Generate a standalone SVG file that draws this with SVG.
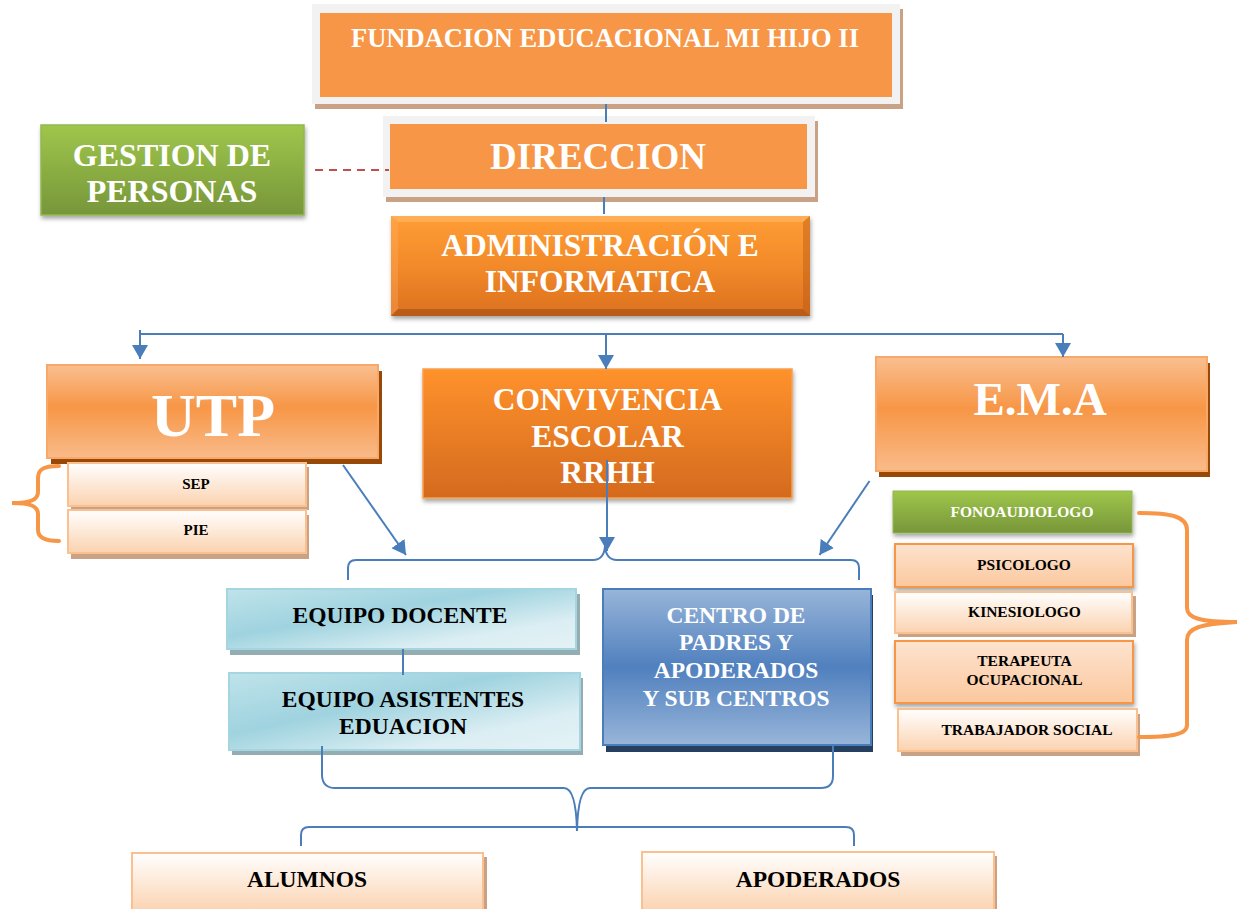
<svg xmlns="http://www.w3.org/2000/svg" width="1237" height="909" viewBox="0 0 1237 909">
<style>
text{font-family:"Liberation Serif","Times New Roman",serif;font-weight:bold;text-anchor:middle}
.w{fill:#ffffff}
.k{fill:#000000}
.line{stroke:#4a7ebb;stroke-width:2;fill:none}
.brace{stroke:#f79646;stroke-width:4;fill:none;stroke-linecap:round}
.tan{fill:#c9a184}
.peach{fill:url(#gPeach);stroke:#fac090;stroke-width:2}
.peach2{fill:url(#gPeach2);stroke:#f79646;stroke-width:2}
.blue{fill:url(#gBlue);stroke:#a5d5e0;stroke-width:2}
</style>
<defs>
<linearGradient id="gGreen" x1="0" y1="0" x2="0" y2="1"><stop offset="0" stop-color="#9fc64b"/><stop offset="1" stop-color="#77963a"/></linearGradient>
<linearGradient id="gAdmin" x1="0" y1="0" x2="0" y2="1"><stop offset="0" stop-color="#ff9d33"/><stop offset="0.5" stop-color="#f28a2a"/><stop offset="1" stop-color="#dc701f"/></linearGradient>
<linearGradient id="gConv" x1="0" y1="0" x2="0" y2="1"><stop offset="0" stop-color="#ff922c"/><stop offset="1" stop-color="#d46a1e"/></linearGradient>
<linearGradient id="gUtp" x1="0" y1="0" x2="0" y2="1"><stop offset="0" stop-color="#f9bf90"/><stop offset="0.45" stop-color="#f79646"/><stop offset="1" stop-color="#f9bb8a"/></linearGradient>
<linearGradient id="gPeach" x1="0" y1="0" x2="0" y2="1"><stop offset="0" stop-color="#ffffff"/><stop offset="1" stop-color="#fbd2af"/></linearGradient>
<linearGradient id="gPeach2" x1="0" y1="0" x2="0" y2="1"><stop offset="0" stop-color="#fde3cf"/><stop offset="1" stop-color="#fbc89e"/></linearGradient>
<linearGradient id="gBlue" x1="0" y1="0" x2="1" y2="1"><stop offset="0" stop-color="#bfe3ea"/><stop offset="0.4" stop-color="#9fd3df"/><stop offset="0.75" stop-color="#dbeef3"/><stop offset="1" stop-color="#e4f2f5"/></linearGradient>
<linearGradient id="gCentro" x1="0" y1="0" x2="0" y2="1"><stop offset="0" stop-color="#98b5d9"/><stop offset="0.5" stop-color="#5080be"/><stop offset="1" stop-color="#98b5d9"/></linearGradient>
<filter id="soft" x="-10%" y="-10%" width="120%" height="130%"><feDropShadow dx="1" dy="3" stdDeviation="2" flood-color="#000" flood-opacity="0.35"/></filter>
<marker id="arr" viewBox="0 0 14 16" refX="14" refY="8" markerWidth="14" markerHeight="16" markerUnits="userSpaceOnUse" orient="auto"><path d="M0,0 L14,8 L0,16 z" fill="#4a7ebb"/></marker>
</defs>

<g id="fundacion">
<rect x="315" y="9" width="588" height="100" class="tan"/>
<rect x="312" y="4" width="588" height="100" fill="#f2f2f2"/>
<rect x="320" y="13" width="572" height="84" fill="#f79646"/>
<text x="605" y="47" font-size="26.5" class="w">FUNDACION EDUCACIONAL MI HIJO II</text>
</g>

<g id="direccion">
<rect x="386" y="121" width="432" height="81" class="tan"/>
<rect x="383" y="116" width="432" height="81" fill="#f2f2f2"/>
<rect x="390" y="124" width="417" height="65" fill="#f79646"/>
<text x="598" y="169" font-size="37" class="w">DIRECCION</text>
</g>

<g id="gestion">
<rect x="41" y="125" width="263" height="90" fill="url(#gGreen)" stroke="#93b752" stroke-width="1.5" filter="url(#soft)"/>
<text x="172" y="166" font-size="32" class="w">GESTION DE</text>
<text x="172" y="202" font-size="32" class="w">PERSONAS</text>
</g>

<g id="administracion">
<rect x="391" y="216" width="419" height="100" fill="url(#gAdmin)" filter="url(#soft)"/>
<polygon points="391,216 810,216 803,222 398,222" fill="#ffc078" opacity="0.5"/>
<polygon points="391,216 398,222 398,309 391,316" fill="#ffb060" opacity="0.35"/>
<polygon points="810,216 810,316 803,309 803,222" fill="#b85a16" opacity="0.45"/>
<polygon points="391,316 810,316 803,309 398,309" fill="#9c4a12" opacity="0.55"/>
<text x="600" y="256" font-size="31.5" class="w">ADMINISTRACIÓN E</text>
<text x="600" y="292" font-size="31.5" class="w">INFORMATICA</text>
</g>

<g id="utp">
<rect x="51" y="371" width="331" height="93" fill="#984807"/>
<rect x="47" y="365" width="331" height="93" fill="url(#gUtp)" stroke="#f8a868" stroke-width="2"/>
<text x="213" y="436" font-size="62" class="w">UTP</text>
</g>

<g id="sep">
<rect x="71" y="467" width="238" height="43" class="tan"/>
<rect x="68" y="463" width="238" height="43" class="peach"/>
<text x="196" y="489" font-size="15" class="k">SEP</text>
</g>

<g id="pie">
<rect x="71" y="515" width="238" height="44" class="tan"/>
<rect x="68" y="510" width="238" height="43" class="peach"/>
<text x="196" y="535" font-size="15" class="k">PIE</text>
</g>

<g id="convivencia">
<rect x="423" y="369" width="369" height="129" fill="url(#gConv)" stroke="#f8a050" stroke-width="1.5" filter="url(#soft)"/>
<text x="607.5" y="410" font-size="31.5" class="w">CONVIVENCIA</text>
<text x="607.5" y="447" font-size="31.5" class="w">ESCOLAR</text>
<text x="607.5" y="483" font-size="31.5" class="w">RRHH</text>
</g>

<g id="ema">
<rect x="879" y="363" width="331" height="114" fill="#984807"/>
<rect x="876" y="357" width="331" height="114" fill="url(#gUtp)" stroke="#f8a868" stroke-width="2"/>
<text x="1040" y="415" font-size="47" class="w">E.M.A</text>
</g>

<g id="fonoaudiologo">
<rect x="893" y="491" width="239" height="42" fill="url(#gGreen)" stroke="#93b752" stroke-width="1" filter="url(#soft)"/>
<text x="1022" y="517" font-size="15.5" class="w">FONOAUDIOLOGO</text>
</g>

<g id="psicologo">
<rect x="895" y="544" width="238" height="43" class="peach2" filter="url(#soft)"/>
<text x="1024" y="570" font-size="15.5" class="k">PSICOLOGO</text>
</g>

<g id="kinesiologo">
<rect x="898" y="596" width="238" height="41" class="tan"/>
<rect x="895" y="592" width="237" height="41" class="peach"/>
<text x="1024.5" y="617" font-size="15.5" class="k">KINESIOLOGO</text>
</g>

<g id="terapeuta">
<rect x="895" y="641" width="238" height="62" class="peach2" filter="url(#soft)"/>
<text x="1024.5" y="666" font-size="15.5" class="k">TERAPEUTA</text>
<text x="1024.5" y="685" font-size="15.5" class="k">OCUPACIONAL</text>
</g>

<g id="trabajador">
<rect x="901" y="714" width="239" height="42" class="tan"/>
<rect x="898" y="709" width="239" height="42" class="peach"/>
<text x="1027" y="735" font-size="15.5" class="k">TRABAJADOR SOCIAL</text>
</g>

<g id="equipo-docente">
<rect x="230" y="594" width="350" height="61" fill="#93adb3"/>
<rect x="227" y="589" width="349" height="60" class="blue"/>
<text x="400" y="623" font-size="23.5" class="k">EQUIPO DOCENTE</text>
</g>

<g id="equipo-asistentes">
<rect x="232" y="678" width="351" height="77" fill="#93adb3"/>
<rect x="229" y="673" width="351" height="77" class="blue"/>
<text x="403" y="707" font-size="23.5" class="k">EQUIPO ASISTENTES</text>
<text x="403" y="734" font-size="23.5" class="k">EDUACION</text>
</g>

<g id="centro-padres">
<rect x="606" y="595" width="267" height="157" fill="#243f60"/>
<rect x="603" y="589" width="268" height="156" fill="url(#gCentro)" stroke="#4a7ebb" stroke-width="2"/>
<text x="736" y="623" font-size="23.5" class="w">CENTRO DE</text>
<text x="736" y="650" font-size="23.5" class="w">PADRES Y</text>
<text x="736" y="678" font-size="23.5" class="w">APODERADOS</text>
<text x="736" y="706" font-size="23.5" class="w">Y SUB CENTROS</text>
</g>

<g id="alumnos">
<rect x="135" y="857" width="352" height="60" class="tan"/>
<rect x="132" y="853" width="351" height="60" class="peach"/>
<text x="307" y="887" font-size="23.5" class="k">ALUMNOS</text>
</g>

<g id="apoderados">
<rect x="645" y="856" width="352" height="60" class="tan"/>
<rect x="642" y="852" width="352" height="60" class="peach"/>
<text x="818" y="887" font-size="23.5" class="k">APODERADOS</text>
</g>

<g id="connectors">
<line x1="606" y1="104" x2="606" y2="122" class="line"/>
<line x1="604" y1="197" x2="604" y2="214" class="line"/>
<line x1="315" y1="170" x2="389" y2="170" stroke="#c0504d" stroke-width="2" stroke-dasharray="8,6"/>
<line x1="139" y1="334" x2="1063" y2="334" class="line"/>
<line x1="140" y1="330" x2="140" y2="359" class="line" marker-end="url(#arr)"/>
<line x1="606" y1="334" x2="606" y2="369" class="line" marker-end="url(#arr)"/>
<line x1="1063" y1="334" x2="1063" y2="357" class="line" marker-end="url(#arr)"/>
<path d="M59,466 C46,466 38,468 38,478 L38,492 C38,500 30,503 12,503 C30,503 38,506 38,514 L38,530 C38,538 46,541 59,541" class="brace"/>
<path d="M1139,513 C1170,513 1187,516 1187,530 L1187,608 C1187,618 1200,622 1237,622 C1200,624 1187,628 1187,640 L1187,725 C1187,735 1170,737 1139,737" class="brace"/>
<line x1="607" y1="460" x2="607" y2="551" class="line" marker-end="url(#arr)"/>
<line x1="343" y1="465" x2="406" y2="555" class="line" marker-end="url(#arr)"/>
<line x1="869.5" y1="481" x2="819.5" y2="555" class="line" marker-end="url(#arr)"/>
<path d="M348,580 L348,568 Q348,560 356,560 L593,560 Q604,560 605,546 Q606,560 617,560 L851,560 Q859,560 859,568 L859,580" class="line"/>
<line x1="403" y1="649" x2="403" y2="675" class="line"/>
<path d="M322,746 L322,776 Q323,788 335,788 L564,788 Q576,788 577,831 Q578,788 590,788 L821,788 Q833,788 833,776 L833,746" class="line"/>
<path d="M301,846 L301,835 Q301,827 309,827 L846,827 Q854,827 854,835 L854,846" class="line"/>
</g>
</svg>
